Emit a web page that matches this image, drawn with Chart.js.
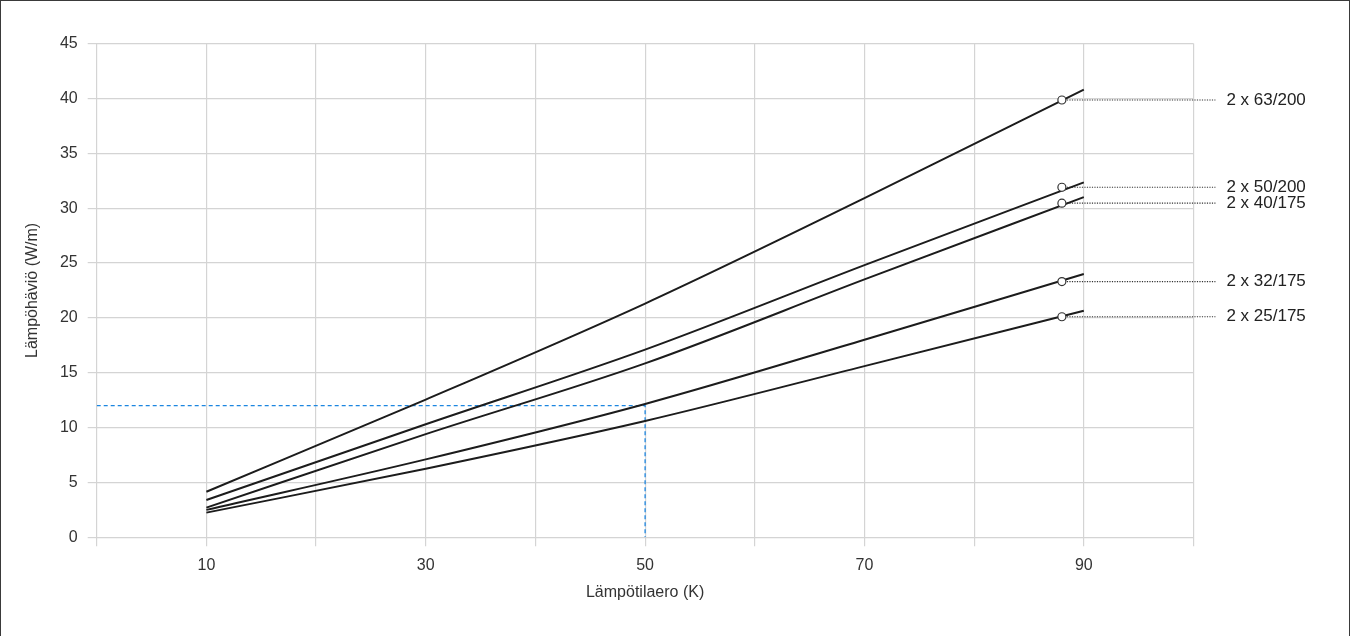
<!DOCTYPE html>
<html>
<head>
<meta charset="utf-8">
<title>Lämpöhäviö</title>
<script src="https://cdn.jsdelivr.net/npm/chart.js@4.4.1/dist/chart.umd.min.js"></script>
<style>
  html, body { margin: 0; padding: 0; background: #fff; }
  #wrap { position: relative; width: 1352px; height: 636px; }
  #frame { position: absolute; left: 0; top: 0; width: 1348px; height: 640px;
           border: 1.5px solid #3a3a3a; pointer-events: none; }
  canvas { display: block; }
</style>
</head>
<body>
<div id="wrap">
  <canvas id="c" width="1352" height="636"></canvas>
  <div id="frame"></div>
</div>
<script>
// Temperature difference (K) at which each curve is sampled
const tempDiff = [10, 30, 50, 70, 90];

// Heat loss (W/m) per pipe size
const seriesNames = ['2 x 63/200', '2 x 50/200', '2 x 40/175', '2 x 32/175', '2 x 25/175'];
const loss63_200 = [4.15, 12.55, 21.3, 30.9, 40.8];
const loss50_200 = [3.4, 10.3, 17.1, 24.8, 32.35];
const loss40_175 = [2.7, 9.4, 15.85, 23.5, 31.0];
const loss32_175 = [2.5, 7.1, 12.15, 18.0, 24.0];
const loss25_175 = [2.25, 6.25, 10.6, 15.6, 20.65];
const seriesValues = [loss63_200, loss50_200, loss40_175, loss32_175, loss25_175];

// Label markers on each curve
const markerX = 88;
const markerValues = [39.85, 31.9, 30.45, 23.3, 20.1];
const leaderEndX = 102;
const labelX = 103;

// Reading example: 50 K -> 12 W/m
const exampleX = 50;
const exampleY = 12;

// Axis ticks
const xLabelTicks = [10, 30, 50, 70, 90];
const yTicksMax = 45;

const FONT = '"Liberation Sans", Arial, Helvetica, sans-serif';
const INK = '#1c1c1c';
const GRID = '#d4d4d4';

const datasets = [];

// leader lines (dotted) from marker to label
seriesNames.forEach((name, i) => {
  datasets.push({
    type: 'line',
    data: [{x: markerX, y: markerValues[i]}, {x: leaderEndX, y: markerValues[i]}],
    borderColor: '#333',
    borderWidth: 1.2,
    borderDash: [1.2, 1.3],
    pointRadius: 0,
    clip: false,
    order: 5
  });
});

// reading example guides
datasets.push({
  type: 'line',
  data: [{x: 0, y: exampleY}, {x: exampleX, y: exampleY}, {x: exampleX, y: 0}],
  borderColor: '#1c86e0',
  borderWidth: 1.3,
  borderDash: [4, 3],
  pointRadius: 0,
  order: 4
});

// heat loss curves
seriesValues.forEach((vals, i) => {
  datasets.push({
    type: 'line',
    label: seriesNames[i],
    data: tempDiff.map((t, k) => ({x: t, y: vals[k]})),
    borderColor: INK,
    borderWidth: 2,
    pointRadius: 0,
    tension: 0.35,
    cubicInterpolationMode: 'monotone',
    order: 3
  });
});

// markers
datasets.push({
  type: 'scatter',
  data: markerValues.map(v => ({x: markerX, y: v})),
  pointRadius: 4,
  pointBorderWidth: 1.2,
  pointBorderColor: '#333',
  pointBackgroundColor: '#fff',
  order: 1
});

const seriesLabels = {
  id: 'seriesLabels',
  afterDatasetsDraw(chart) {
    const {ctx, scales: {x, y}} = chart;
    ctx.save();
    ctx.font = '17px ' + FONT;
    ctx.fillStyle = '#222';
    ctx.textAlign = 'left';
    ctx.textBaseline = 'middle';
    seriesNames.forEach((name, i) => {
      ctx.fillText(name, x.getPixelForValue(labelX), y.getPixelForValue(markerValues[i]));
    });
    ctx.restore();
  }
};

new Chart(document.getElementById('c'), {
  data: { datasets },
  plugins: [seriesLabels],
  options: {
    responsive: false,
    animation: false,
    layout: { padding: { top: 43.5, right: 158.5, bottom: 0, left: 0 } },
    plugins: { legend: { display: false }, tooltip: { enabled: false } },
    scales: {
      x: {
        type: 'linear',
        min: 0,
        max: 100,
        afterFit(scale) { scale.height = 98.7; },
        grid: { color: GRID, lineWidth: 1.2, tickLength: 9, tickColor: GRID },
        border: { display: false },
        ticks: {
          stepSize: 10,
          padding: 10,
          color: '#333',
          font: { family: FONT, size: 16 },
          callback: v => xLabelTicks.includes(v) ? String(v) : ''
        },
        title: {
          display: true,
          text: 'Lämpötilaero (K)',
          color: '#333',
          font: { family: FONT, size: 16 },
          padding: { top: 0, bottom: 34 }
        }
      },
      y: {
        type: 'linear',
        min: 0,
        max: yTicksMax,
        afterFit(scale) { scale.width = 96.7; },
        grid: { color: GRID, lineWidth: 1.2, tickLength: 9, tickColor: GRID },
        border: { display: false },
        ticks: {
          stepSize: 5,
          padding: 10,
          color: '#333',
          font: { family: FONT, size: 16 }
        },
        title: {
          display: true,
          text: 'Lämpöhäviö (W/m)',
          color: '#333',
          font: { family: FONT, size: 16 },
          padding: { top: 23, bottom: 0 }
        }
      }
    }
  }
});
</script>
</body>
</html>
